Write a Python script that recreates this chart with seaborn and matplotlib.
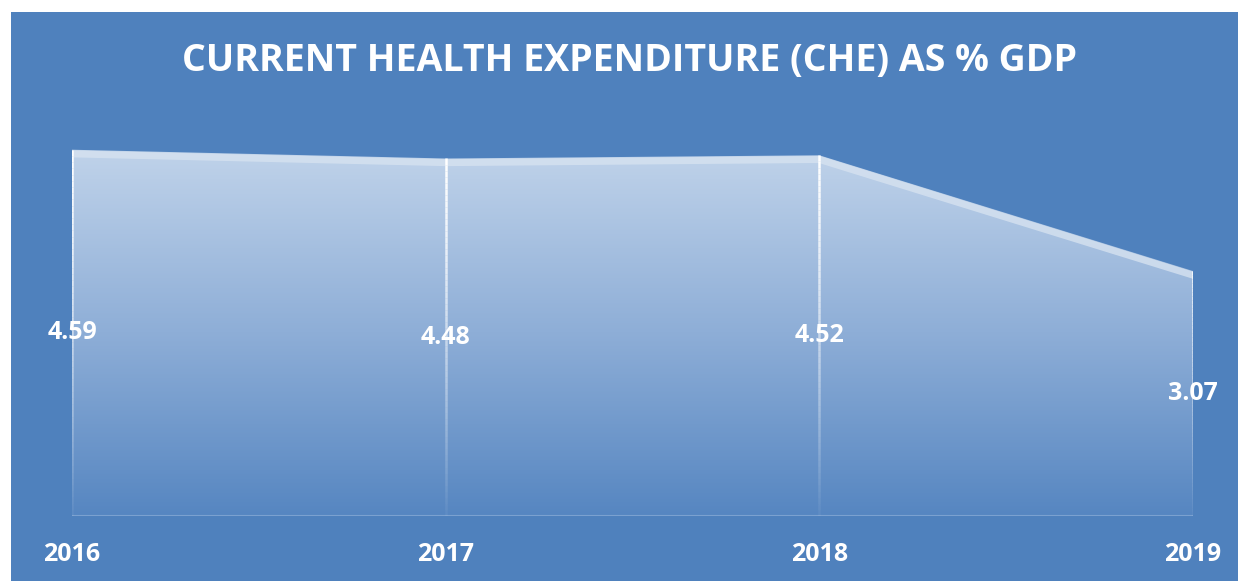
import matplotlib
matplotlib.use("Agg")
import matplotlib.pyplot as plt
from matplotlib.colors import LinearSegmentedColormap
from matplotlib.collections import LineCollection
from matplotlib.patches import Rectangle
import matplotlib.transforms as mtransforms
import seaborn as sns
import numpy as np
import pandas as pd

years = ["2016", "2017", "2018", "2019"]
che_pct_gdp = [4.59, 4.48, 4.52, 3.07]
title = "CURRENT HEALTH EXPENDITURE (CHE) AS % GDP"

bg = "#4F81BD"
sns.set_theme(style="white")
plt.rcParams['font.family'] = ['Open Sans', 'DejaVu Sans']

df = pd.DataFrame({"year": years, "value": che_pct_gdp})
xs = np.arange(len(df))

fig = plt.figure(figsize=(12.38, 5.81), dpi=100)
fig.patch.set_facecolor("white")
# blue chart area (white strip on the top and left edge like the screenshot)
fig.add_artist(Rectangle((11 / 1238, 0), 1, 1 - 12 / 581, transform=fig.transFigure,
                         facecolor=bg, edgecolor="none", zorder=-5))

ax = fig.add_axes([72 / 1238, 65 / 581, 1121 / 1238, 399 / 581])
ax.set_zorder(2)
ax.set_facecolor("none")

# gradient fill clipped to the area polygon
cmap = LinearSegmentedColormap.from_list("fade", ["#5686C1", "#8EAED7", "#C0D3EA"])
grad = np.linspace(0, 1, 256).reshape(-1, 1)
ymax = max(che_pct_gdp)
im = ax.imshow(grad, cmap=cmap, origin="lower", aspect="auto",
               extent=(0, len(df) - 1, 0, ymax), zorder=1)
poly = ax.fill_between(xs, df["value"], 0, color="none", lw=0)
im.set_clip_path(poly.get_paths()[0], transform=ax.transData)
ax.set_xlim(0, len(df) - 1)
ax.set_ylim(0, 5)

# light band along the top edge
sns.lineplot(x=xs, y=df["value"], ax=ax, color="#D6E2F0", lw=5, alpha=0.8, zorder=3,
             transform=mtransforms.offset_copy(ax.transData, fig, y=-3, units="points"))

# fading white drop lines
for x, v in zip(xs, che_pct_gdp):
    ys = np.linspace(v, 0, 60)
    segs = [[(x, ys[i]), (x, ys[i + 1])] for i in range(len(ys) - 1)]
    alphas = np.linspace(1, 0.05, len(segs))
    cols = [(1, 1, 1, a) for a in alphas]
    ax.add_collection(LineCollection(segs, colors=cols, linewidths=1.8, zorder=4,
                                     capstyle="butt"))

# baseline
ax.axhline(0, color="#7BA1D0", lw=1.5, zorder=2)

# data labels at the middle of each drop
for x, v in zip(xs, che_pct_gdp):
    ax.text(x, v / 2, f"{v:.2f}", ha="center", va="center", color="white",
            fontsize=18, fontweight="bold", zorder=5, clip_on=False)

ax.set_xticks(xs)
ax.set_xticklabels(df["year"], color="white", fontsize=18, fontweight="bold")
ax.tick_params(axis="x", length=0, pad=19)
ax.set_yticks([])
ax.set_xlabel("")
ax.set_ylabel("")
for s in ax.spines.values():
    s.set_visible(False)

fig.text(630 / 1238, 1 - 61 / 581, title, ha="center", va="center", color="white",
         fontsize=27, fontweight="bold")

fig.savefig("out.png", dpi=100, facecolor=fig.get_facecolor())
